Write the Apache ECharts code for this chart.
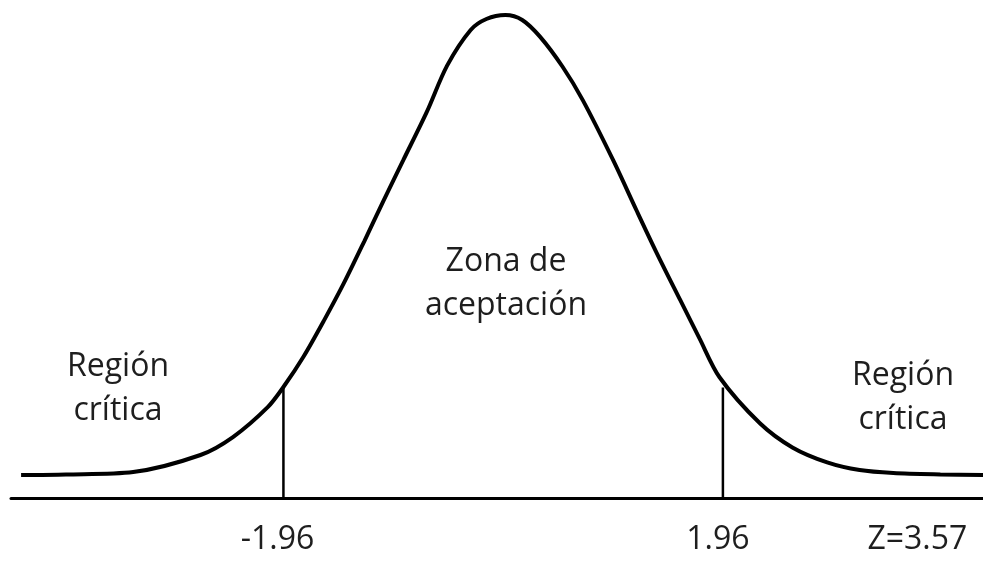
<!DOCTYPE html>
<html>
<head>
<meta charset="utf-8">
<script src="https://cdn.jsdelivr.net/npm/echarts@6/dist/echarts.min.js"></script>
<style>
    html, body {margin: 0; padding: 0; background: #fff;}
    #main {width: 983px; height: 561px;}
</style>
</head>
<body>
<div id="main"></div>
<script>
// curve: z value and density height
const curveZ = [-4.30, -3.90, -3.30, -2.70, -2.41, -2.10, -1.96, -1.78, -1.60, -1.42, -1.24, -1.07, -0.89, -0.68, -0.50, -0.29, -0.15, 0.02,
    0.17, 0.33, 0.53, 0.71, 0.98, 1.19, 1.37, 1.58, 1.75, 1.93, 2.29, 2.58, 2.89, 3.18, 3.48, 3.90, 4.28];
const curveY = [0, 0.0005, 0.0026, 0.0174, 0.033, 0.059, 0.0765, 0.103, 0.134, 0.167, 0.203, 0.238, 0.274, 0.316, 0.356, 0.387, 0.3965, 0.400,
    0.3957, 0.381, 0.355, 0.326, 0.274, 0.230, 0.193, 0.152, 0.119, 0.085, 0.045, 0.024, 0.011, 0.0043, 0.0017, 0.0005, 0];

// critical values and the height where their lines meet the curve
const criticalZ = [-1.96, 1.96];
const criticalTop = [0.0757, 0.076];

// labels under the axis
const tickZ = [-1.96, 1.96, 3.57];
const tickLabels = ['-1.96', '1.96', 'Z=3.57'];

const FONT = '"Open Sans"';
const SIZE = 32;
const TEXT = '#1e1e1e';

const chart = echarts.init(document.getElementById('main'));

const curveData = curveZ.map((z, i) => [z, curveY[i]]);

const criticalSeries = criticalZ.map((z, i) => ({
    type: 'line',
    data: [[z, -0.02], [z, criticalTop[i]]],
    symbol: 'none',
    lineStyle: {color: '#000', width: 2.5},
    silent: true,
    z: 1
}));

// small shifts so labels sit where they do in the picture
const labelRich = {
    a: {fontFamily: FONT, fontSize: SIZE, color: TEXT, padding: [0, 12, 0, 0]},
    b: {fontFamily: FONT, fontSize: SIZE, color: TEXT, padding: [0, 10, 0, 0]},
    c: {fontFamily: FONT, fontSize: SIZE, color: TEXT, padding: [0, 0, 0, 28]}
};

const textStyle = (t) => ({
    text: t, font: SIZE + 'px ' + FONT, fill: TEXT,
    align: 'center', verticalAlign: 'middle', lineHeight: 44
});

const option = {
    animation: false,
    grid: {left: 11, right: 0, top: 15, bottom: 63, containLabel: false},
    xAxis: {
        type: 'value',
        min: -4.39,
        max: 4.28,
        axisLine: {onZero: false, lineStyle: {color: '#000', width: 3}},
        axisTick: {show: false},
        splitLine: {show: false},
        axisLabel: {
            customValues: tickZ,
            margin: 26,
            formatter: function (v) {
                const i = tickZ.indexOf(v);
                if (i < 0) return '';
                return '{' + 'abc'[i] + '|' + tickLabels[i] + '}';
            },
            rich: labelRich
        }
    },
    yAxis: {
        type: 'value',
        min: -0.02,
        max: 0.4,
        show: false
    },
    series: [
        {
            type: 'line',
            data: curveData,
            smooth: 0.3,
            symbol: 'none',
            clip: false,
            lineStyle: {color: '#000', width: 4},
            z: 2
        },
        ...criticalSeries
    ],
    graphic: [
        {type: 'text', x: 118, y: 389, style: textStyle('Región\ncrítica')},
        {type: 'text', x: 903, y: 398, style: textStyle('Región\ncrítica')},
        {type: 'text', x: 506, y: 284, style: textStyle('Zona de\naceptación')}
    ]
};

chart.setOption(option);
</script>
</body>
</html>
